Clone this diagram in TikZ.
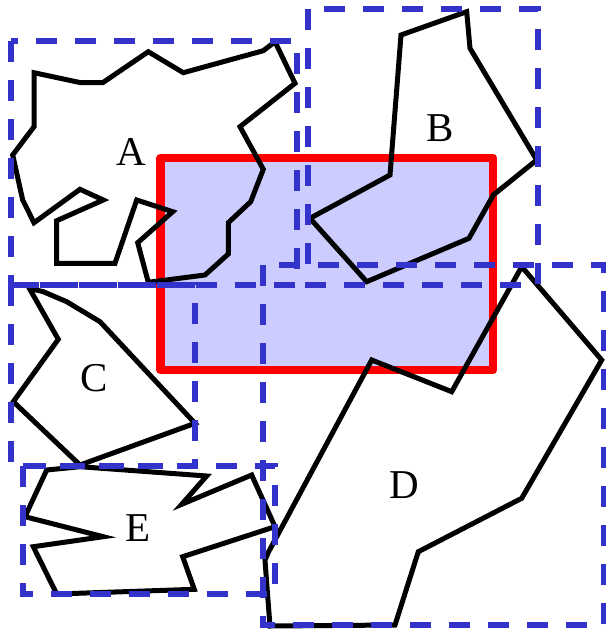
\documentclass[tikz,border=0pt]{standalone}
\usepackage{fontspec}
\setmainfont{Liberation Serif}
\begin{document}
\begin{tikzpicture}[x=1pt,y=-1pt,
  poly/.style={draw=black,line width=5pt,line join=miter},
  bbox/.style={draw=boxblue,line width=6pt,dash pattern=on 21pt off 18pt},
  region/.style={draw=red,fill=regionfill,line width=8.5pt,line join=round},
  lbl/.style={font=\fontsize{41}{41}\selectfont,inner sep=0pt}]
\definecolor{boxblue}{HTML}{3333CC}
\definecolor{regionfill}{HTML}{CCCCFF}
\useasboundingbox (0,0) rectangle (605,629);
% query rectangle
\draw[region] (160.5,158) rectangle (493,370);
% polygon A
\draw[poly] (34,72.7) -- (80.7,82.7) -- (102.7,82.7) -- (148.3,51.7) -- (183.3,72.7)
  -- (263.3,50.7) -- (275,41.7) -- (295,83.3) -- (240,126.7) -- (263.3,169.3)
  -- (250.7,201.7) -- (228.3,222.7) -- (228.3,254) -- (205,275) -- (148.3,282.3)
  -- (137.7,242.7) -- (172.7,211.7) -- (136.7,200) -- (115,263.3) -- (56.7,263.3)
  -- (56.7,220.7) -- (103.3,200) -- (80,189.3) -- (34,222.7) -- (22.7,200)
  -- (12.7,155) -- (34,126.7) -- cycle;
% polygon B
\draw[poly] (466.7,11.7) -- (470,48.3) -- (536.7,160) -- (493.3,195) -- (469,238.3)
  -- (366.7,281.7) -- (310,218.3) -- (390,175) -- (401,35) -- cycle;
% polygon C
\draw[poly] (29.3,288.3) -- (43.3,291.7) -- (66.7,301.7) -- (100,321.7)
  -- (195,423.3) -- (80,465) -- (13.3,401.7) -- (58.3,339.3) -- cycle;
% polygon D
\draw[poly] (521.7,266.7) -- (601.7,360) -- (521.7,498.3) -- (418.3,551.7)
  -- (395,625) -- (270,626) -- (266.7,583.3) -- (265,560) -- (268.5,552)
  -- (371.7,360) -- (451.7,391.7) -- cycle;
% polygon E
\draw[poly] (46.7,470) -- (80,466.7) -- (206.7,476) -- (181.7,504.3) -- (251.7,475)
  -- (275,526.7) -- (182.7,556.7) -- (194.3,589.3) -- (56.7,594) -- (33.3,546.7)
  -- (103.3,536.7) -- (25,516.7) -- cycle;
% bounding boxes
\draw[bbox] (11,41) rectangle (297,285);
\draw[bbox] (308,9) rectangle (538,285);
\draw[bbox] (11,285) rectangle (195,466);
\draw[bbox] (263,265) rectangle (604,625);
\draw[bbox] (22.7,466) rectangle (275,594);
% labels
\node[lbl] (la) at (131.7,151.7) {A};
\node[lbl] (lb) at (440,128.3) {B};
\node[lbl] (lc) at (94.3,378.3) {C};
\node[lbl] (ld) at (404,485) {D};
\node[lbl] (le) at (138.3,528.3) {E};
\end{tikzpicture}
\end{document}
